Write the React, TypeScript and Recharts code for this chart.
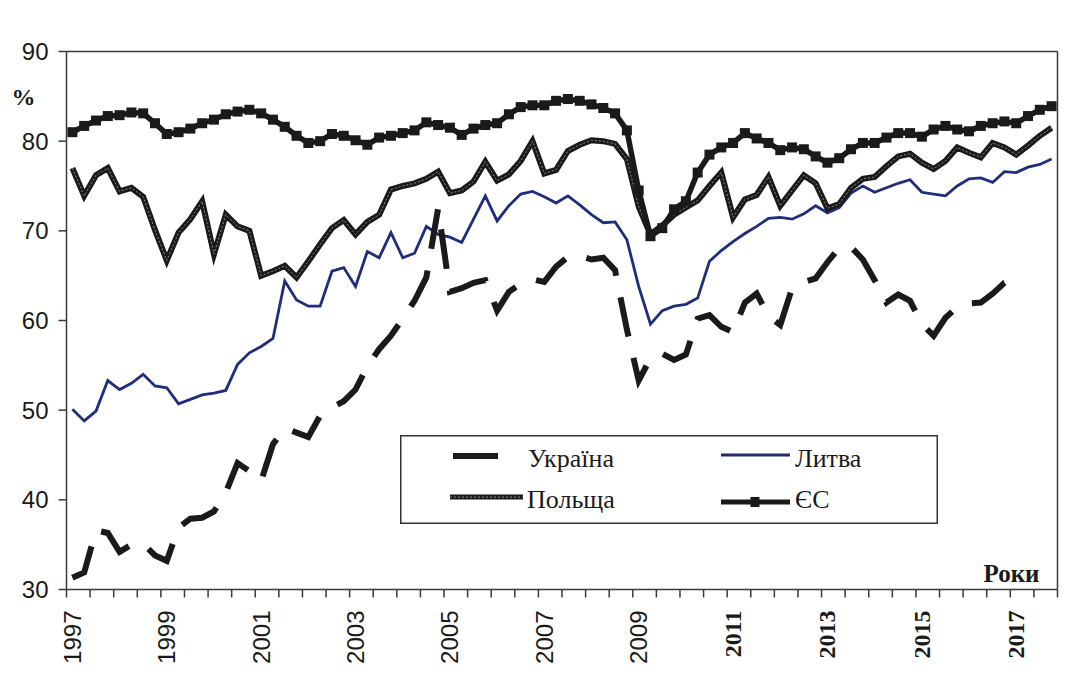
import React from "react";
import {
  ComposedChart,
  Line,
  XAxis,
  YAxis,
  ReferenceLine,
  Legend,
  Label,
} from "recharts";

// quarterly data, 1997 Q1 .. 2017 Q4 (84 quarters)
const tickYears = [1997, 1999, 2001, 2003, 2005, 2007, 2009, 2011, 2013, 2015, 2017];
const yTicks = [30, 40, 50, 60, 70, 80, 90];
const xTicks = [
  0, 2, 4, 6, 8, 10, 12, 14, 16, 18, 20, 22, 24, 26, 28, 30, 32, 34, 36, 38, 40, 42,
  44, 46, 48, 50, 52, 54, 56, 58, 60, 62, 64, 66, 68, 70, 72, 74, 76, 78, 80, 82, 84,
];

const ukraine = [
  31.3, 31.9, 36.6, 36.3, 34.2, 35.0, 35.1, 33.8, 33.2, 36.9,
  37.9, 38.0, 38.7, 40.8, 44.1, 43.2, 42.1, 46.2, 48.0, 47.5,
  47.0, 49.4, 50.3, 51.0, 52.3, 54.9, 56.8, 58.3, 60.2, 62.2,
  64.8, 72.5, 63.2, 63.6, 64.2, 64.5, 61.1, 63.2, 64.1, 64.6,
  64.3, 66.0, 67.1, 67.2, 66.8, 67.0, 65.6, 59.0, 53.3, 55.8,
  56.3, 55.6, 56.2, 60.2, 60.6, 59.3, 58.7, 62.0, 63.0, 60.5,
  59.5, 63.6, 64.3, 64.7, 66.5, 68.1, 68.2, 66.8, 64.5, 62.0,
  62.9, 62.2, 59.6, 58.3, 60.3, 61.5, 61.9, 62.0, 63.0, 64.2,
  64.7, null, null, null,
];

const lithuania = [
  50.1, 48.8, 49.9, 53.3, 52.3, 53.0, 54.0, 52.7, 52.5, 50.7,
  51.2, 51.7, 51.9, 52.2, 55.1, 56.4, 57.1, 58.0, 64.4, 62.3,
  61.6, 61.6, 65.5, 65.9, 63.8, 67.7, 67.0, 69.8, 67.0, 67.5,
  70.5, 69.6, 69.3, 68.7, 71.3, 73.9, 71.1, 72.8, 74.1, 74.4,
  73.8, 73.1, 73.9, 72.9, 71.8, 70.9, 71.0, 69.0, 63.8, 59.6,
  61.1, 61.6, 61.8, 62.5, 66.6, 67.8, 68.8, 69.7, 70.5, 71.4,
  71.5, 71.3, 71.9, 72.8, 72.0, 72.6, 74.2, 75.0, 74.3, 74.8,
  75.3, 75.7, 74.3, 74.1, 73.9, 75.0, 75.8, 75.9, 75.4, 76.6,
  76.5, 77.1, 77.4, 78.0,
];

const poland = [
  77.0, 73.9, 76.2, 77.0, 74.4, 74.8, 73.8, 70.1, 66.7, 69.8,
  71.3, 73.3, 67.4, 71.8, 70.5, 70.0, 65.0, 65.5, 66.1, 64.8,
  66.6, 68.5, 70.3, 71.2, 69.6, 71.0, 71.8, 74.6, 75.0, 75.3,
  75.8, 76.6, 74.2, 74.5, 75.5, 77.7, 75.6, 76.3, 77.8, 80.0,
  76.4, 76.8, 78.9, 79.6, 80.1, 80.0, 79.7, 78.0, 72.7, 69.6,
  70.6, 71.8, 72.6, 73.4, 75.0, 76.5, 71.5, 73.5, 74.0, 76.0,
  72.8, 74.5, 76.2, 75.3, 72.5, 73.0, 74.8, 75.8, 76.0, 77.2,
  78.3, 78.6, 77.6, 76.9, 77.8, 79.3, 78.7, 78.2, 79.8, 79.3,
  78.5, 79.5, 80.6, 81.5,
];

const eu = [
  81.0, 81.7, 82.3, 82.8, 82.9, 83.2, 83.1, 82.0, 80.8, 81.0,
  81.4, 82.0, 82.4, 83.0, 83.3, 83.5, 83.1, 82.4, 81.6, 80.6,
  79.8, 80.0, 80.8, 80.6, 80.1, 79.6, 80.4, 80.6, 80.9, 81.2,
  82.1, 81.8, 81.5, 80.7, 81.4, 81.8, 82.0, 83.0, 83.8, 84.0,
  84.0, 84.5, 84.7, 84.5, 84.1, 83.7, 83.1, 81.2, 74.5, 69.4,
  70.3, 72.4, 73.3, 76.5, 78.5, 79.3, 79.8, 80.9, 80.3, 79.8,
  79.0, 79.3, 79.1, 78.3, 77.6, 78.1, 79.1, 79.8, 79.8, 80.4,
  80.9, 80.9, 80.5, 81.3, 81.7, 81.3, 81.1, 81.7, 82.0, 82.2,
  82.0, 82.8, 83.5, 83.9,
];

const data = eu.map((v, i) => ({
  x: i + 0.5,
  ukraine: ukraine[i],
  lithuania: lithuania[i],
  poland: poland[i],
  eu: v,
}));

const SERIF = '"Liberation Serif", "Times New Roman", serif';
const SANS = '"Liberation Sans", Arial, sans-serif';
const INK = "#1a1a1a";
const AXIS = "#3a3a3a";
const NAVY = "#1f2d7b";

const XTick = (props: any) => {
  const { x, y, payload } = props;
  const v = payload.value;
  if (v % 8 !== 0 || v >= 84) return <g />;
  const year = tickYears[v / 8];
  const serif = year >= 2011;
  const cx = x + 5.9;
  return (
    <text
      x={cx}
      y={y}
      transform={`rotate(-90 ${cx} ${y})`}
      textAnchor="end"
      dominantBaseline="central"
      fontFamily={serif ? SERIF : SANS}
      fontWeight={serif ? 700 : 400}
      fontSize={24}
      fill={INK}
    >
      {year}
    </text>
  );
};

const EuDot = (p: any) => (
  <rect key={`eu-${p.index}`} x={p.cx - 5} y={p.cy - 5} width={10} height={10} fill={INK} />
);

const LegendBox = () => (
  <svg width={538} height={89}>
    <rect x={0.75} y={0.75} width={536.5} height={87.5} fill="#fff" stroke="#333" strokeWidth={1.5} />
    <line x1={53} y1={21} x2={98} y2={21} stroke={INK} strokeWidth={6} />
    <text x={128} y={32} fontFamily={SERIF} fontSize={26} fill={INK}>Україна</text>
    <line x1={50} y1={62} x2={123} y2={62} stroke={INK} strokeWidth={5} />
    <line x1={50} y1={62} x2={123} y2={62} stroke="#8a8a8a" strokeWidth={1} strokeDasharray="2 2" />
    <text x={127} y={73} fontFamily={SERIF} fontSize={26} fill={INK}>Польща</text>
    <line x1={321} y1={20} x2={390} y2={20} stroke={NAVY} strokeWidth={2.8} />
    <text x={395} y={32} fontFamily={SERIF} fontSize={26} fill={INK}>Литва</text>
    <line x1={321} y1={67} x2={390} y2={67} stroke={INK} strokeWidth={5} />
    <rect x={350.5} y={62} width={9} height={10} fill={INK} />
    <text x={395} y={73} fontFamily={SERIF} fontSize={26} fill={INK}>ЄС</text>
  </svg>
);

export default function App() {
  return (
    <div
      style={{
        position: "relative",
        width: 1066,
        height: 668,
        marginLeft: -1,
        marginTop: -1,
        borderTop: `1.5px solid ${AXIS}`,
        borderLeft: `1.5px solid ${AXIS}`,
        boxSizing: "border-box",
        background: "#fff",
      }}
    >
      <div style={{ position: "absolute", left: 0, top: 0 }}>
        <ComposedChart
          width={1064}
          height={666}
          data={data}
          margin={{ top: 43.5, right: 14.5, bottom: 0, left: 0 }}
        >
          <XAxis
            dataKey="x"
            type="number"
            domain={[0, 84]}
            ticks={xTicks}
            interval={0}
            height={84.5}
            tickSize={8}
            tickMargin={13}
            tick={<XTick />}
            axisLine={{ stroke: AXIS, strokeWidth: 1.5 }}
            tickLine={{ stroke: AXIS, strokeWidth: 1.5 }}
          >
            <Label
              content={() => (
                <text x={1031.5} y={573.5} textAnchor="end" fontFamily={SERIF} fontWeight={700} fontSize={25} fill={INK}>
                  Роки
                </text>
              )}
            />
          </XAxis>
          <YAxis
            type="number"
            domain={[30, 90]}
            ticks={yTicks}
            interval={0}
            width={58.5}
            tickSize={8}
            tickMargin={10}
            tick={{ fontFamily: SANS, fontSize: 24, fill: INK }}
            axisLine={{ stroke: AXIS, strokeWidth: 1.5 }}
            tickLine={{ stroke: AXIS, strokeWidth: 1.5 }}
          >
            <Label
              content={() => (
                <text x={3.5} y={96.5} fontFamily={SERIF} fontWeight={700} fontSize={24} fill={INK}>
                  %
                </text>
              )}
            />
          </YAxis>
          <ReferenceLine y={90} stroke={AXIS} strokeWidth={1.5} />
          <ReferenceLine x={84} stroke={AXIS} strokeWidth={1.5} />
          <Legend
            verticalAlign="middle"
            layout="horizontal"
            content={() => <LegendBox />}
            wrapperStyle={{ left: 391.5, top: 426.5, width: 538, height: 89 }}
          />
          <Line
            dataKey="lithuania"
            name="Литва"
            type="linear"
            stroke={NAVY}
            strokeWidth={2.8}
            dot={false}
            isAnimationActive={false}
          />
          <Line
            dataKey="ukraine"
            name="Україна"
            type="linear"
            stroke={INK}
            strokeWidth={6}
            strokeDasharray="40 22"
            dot={false}
            isAnimationActive={false}
          />
          <Line
            dataKey="poland"
            name="Польща"
            type="linear"
            stroke={INK}
            strokeWidth={6}
            dot={false}
            isAnimationActive={false}
          />
          <Line
            dataKey="poland"
            name="Польща texture"
            type="linear"
            stroke="#8a8a8a"
            strokeWidth={1}
            strokeDasharray="2 2"
            dot={false}
            legendType="none"
            isAnimationActive={false}
          />
          <Line
            dataKey="eu"
            name="ЄС"
            type="linear"
            stroke={INK}
            strokeWidth={5.5}
            dot={EuDot}
            isAnimationActive={false}
          />
        </ComposedChart>
      </div>
    </div>
  );
}
